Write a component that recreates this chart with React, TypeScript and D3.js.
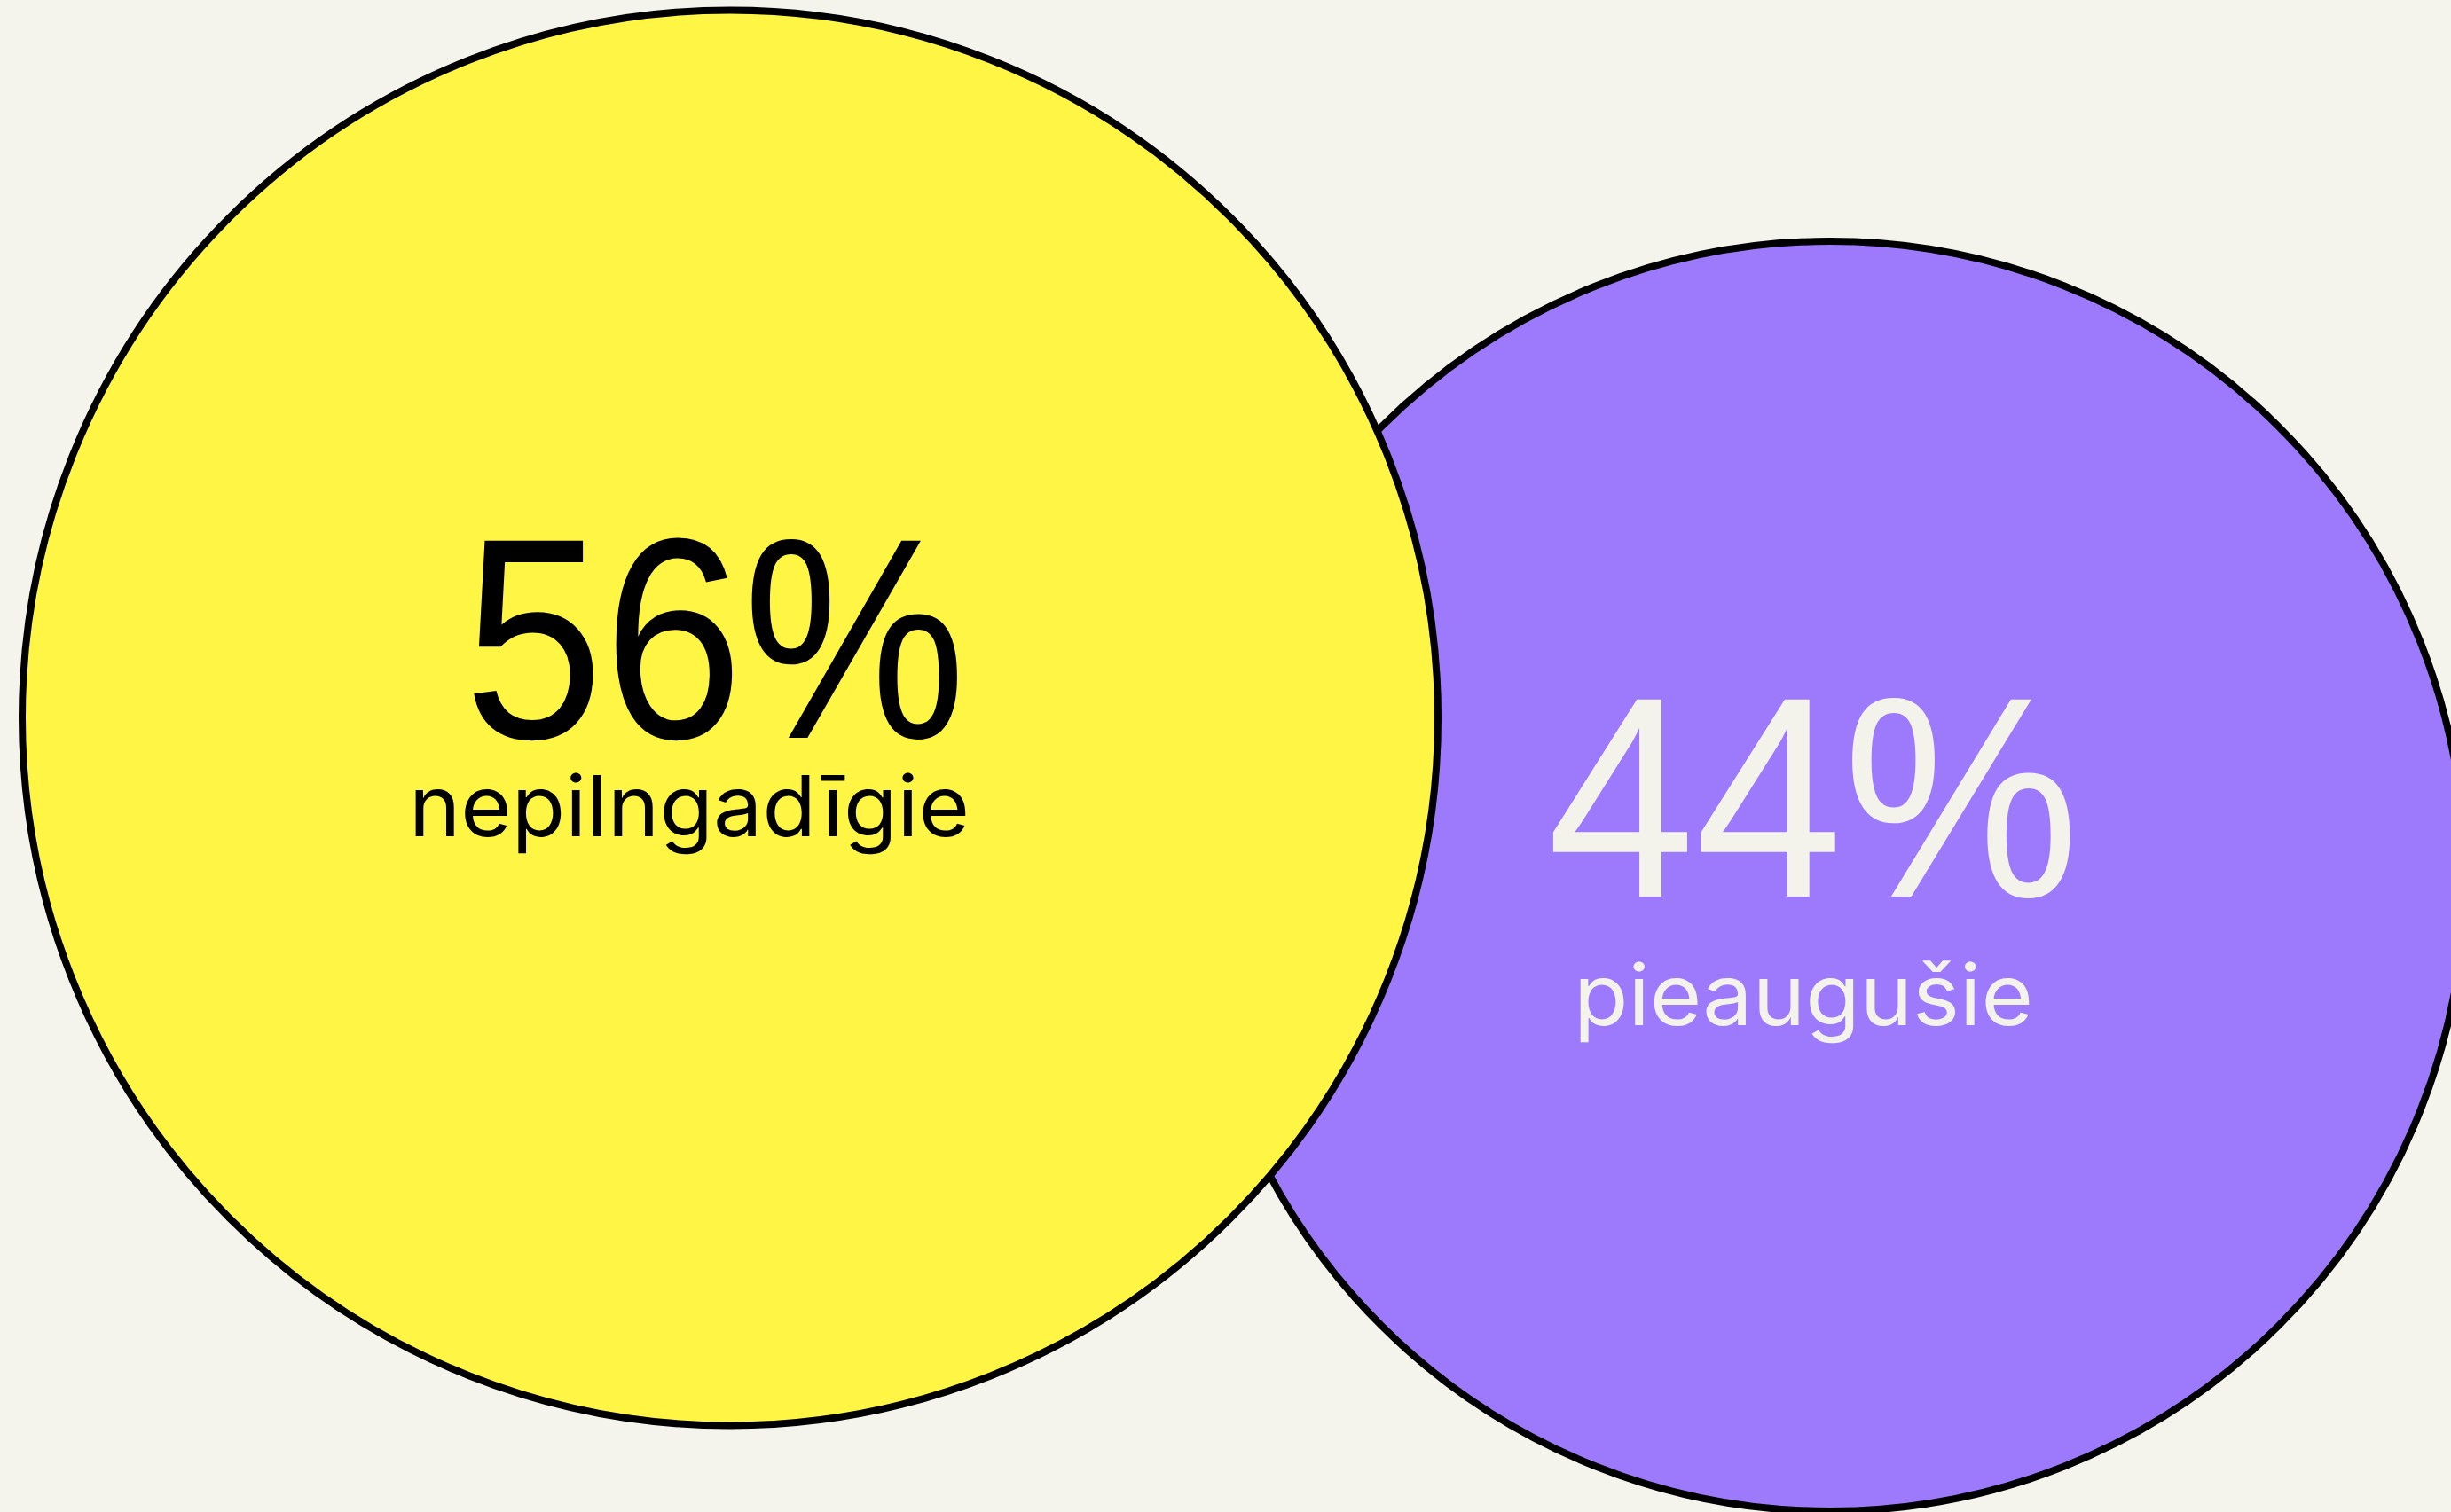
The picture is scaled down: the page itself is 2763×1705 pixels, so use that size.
import React from "react";
import * as d3 from "d3";

const categories = ["nepilngadīgie", "pieaugušie"];
const values = [56, 44];
const fills = ["#FFF545", "#9D7AFB"];
const textColors = ["#000000", "#F4F3EB"];

const W = 2763;
const H = 1705;
const BG = "#F4F4EC";

export default function App() {
  const rScale = d3.scaleLinear().domain(d3.extent(values) as [number, number]).range([716, 798]);
  const layout = [
    { cx: 823, cy: 809.5, numX: 806, numY: 832, numLen: 566, labX: 777, labY: 943, labLen: 632 },
    { cx: 2063, cy: 988, numX: 2044, numY: 1011, numLen: 600, labX: 2033, labY: 1156, labLen: 518 },
  ];
  const items = categories.map((c, i) => ({ cat: c, v: values[i], r: rScale(values[i]), fill: fills[i], tc: textColors[i], ...layout[i] }));
  const order = [1, 0];
  const fmt = (v: number) => d3.format("d")(v) + "%";
  return (
    <svg width={W} height={H} style={{ position: "absolute", left: 0, top: 0, display: "block" }}>
      <rect x={0} y={0} width={W} height={H} fill={BG} />
      {order.map((i) => {
        const d = items[i];
        return (
          <g key={d.cat}>
            <circle cx={d.cx} cy={d.cy} r={d.r} fill={d.fill} stroke="#000" strokeWidth={8} />
            <text x={d.numX} y={d.numY} textAnchor="middle" fill={d.tc} fontFamily="'Liberation Sans', Arial, sans-serif" fontSize={323} fontWeight={400} textLength={d.numLen} lengthAdjust="spacingAndGlyphs">
              {fmt(d.v)}
            </text>
            <text x={d.labX} y={d.labY} textAnchor="middle" fill={d.tc} fontFamily="Inter, 'Liberation Sans', sans-serif" fontSize={95} fontWeight={400} textLength={d.labLen} lengthAdjust="spacingAndGlyphs">
              {d.cat}
            </text>
          </g>
        );
      })}
    </svg>
  );
}
